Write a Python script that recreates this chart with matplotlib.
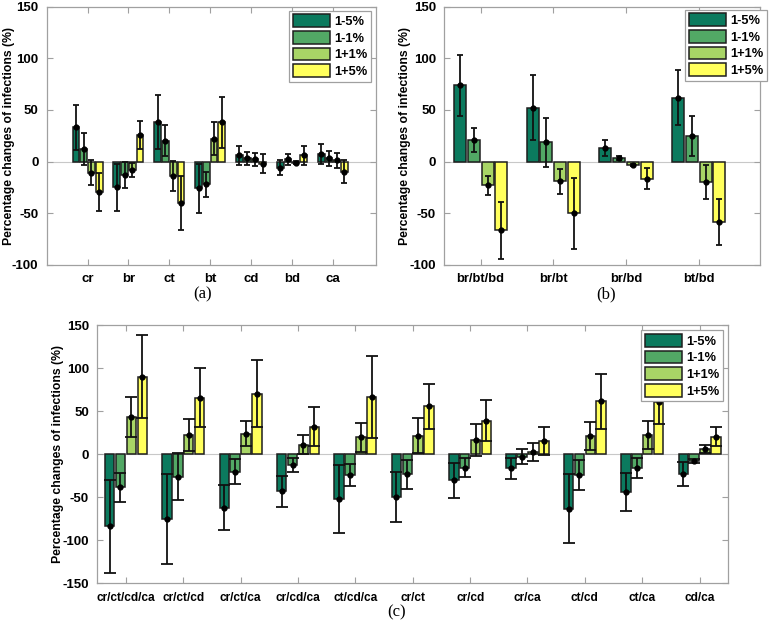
import numpy as np
import matplotlib
matplotlib.use("Agg")
import matplotlib.pyplot as plt

# --- data ---
series = ["1-5%", "1-1%", "1+1%", "1+5%"]
colors = ["#0b7a5e", "#52a865", "#a8d566", "#ffff5c"]

a_groups = ["cr", "br", "ct", "bt", "cd", "bd", "ca"]
a_mean = [
    [33, -25, 38, -26, 6, -6, 7],
    [12.5, -13, 20, -22, 3, 2, 3],
    [-11, -8, -14, 22, 2, -1, 1],
    [-29.5, 25.5, -40, 38, -2, 6, -10],
]
a_err = [
    [22, 23, 26, 23.5, 9, 7.5, 9.5],
    [15.5, 13, 15, 12, 6, 5.5, 7],
    [12, 7, 14.5, 16, 6.5, 1.5, 7.5],
    [18, 13.5, 26, 24.5, 9.5, 9.5, 11],
]

b_groups = ["br/bt/bd", "br/bt", "br/bd", "bt/bd"]
b_mean = [
    [74, 52, 13, 62],
    [21, 18.5, 3.5, 24.5],
    [-23, -19, -3, -19.5],
    [-66.5, -50, -16.5, -58.5],
]
b_err = [
    [29.5, 31.5, 7.5, 27],
    [11.5, 23.5, 2, 19.5],
    [9, 12, 1, 16.5],
    [27.5, 34.5, 10.5, 22.5],
]

c_groups = ["cr/ct/cd/ca", "cr/ct/cd", "cr/ct/ca", "cr/cd/ca", "ct/cd/ca",
            "cr/ct", "cr/cd", "cr/ca", "ct/cd", "ct/ca", "cd/ca"]
c_mean = [
    [-84, -75, -62, -43, -52.5, -49.5, -30.5, -16.5, -63.5, -44, -23],
    [-38.5, -26, -20.5, -12.5, -24, -23.5, -15.5, -3, -24, -16, -8],
    [43, 22, 24, 11, 19.5, 21.5, 16.5, 2.5, 21, 22, 6],
    [90, 65.5, 70, 32, 66, 55.5, 39, 15.5, 61.5, 60.5, 20],
]
c_err = [
    [54, 52, 26, 18, 39.5, 29, 20.5, 12.5, 40, 22.5, 13.5],
    [17, 27, 14.5, 8.5, 13, 16.5, 11.5, 8.5, 17.5, 11.5, 2.5],
    [23.5, 18.5, 14, 11, 16.5, 20.5, 19, 10.5, 16.5, 16.5, 5],
    [48, 34, 39, 23, 47.5, 26, 23.5, 16.5, 32, 25, 11],
]

plt.rcParams["font.family"] = ["Liberation Sans", "DejaVu Sans"]
plt.rcParams["font.weight"] = "bold"
plt.rcParams["axes.unicode_minus"] = False

fig = plt.figure(figsize=(7.75, 6.23), dpi=100)

ax_a = fig.add_axes([0.0603, 0.5751, 0.4245, 0.4141])
ax_b = fig.add_axes([0.5733, 0.5751, 0.4070, 0.4141])
ax_c = fig.add_axes([0.1255, 0.0637, 0.8142, 0.4146])

SLOT = 0.19
WIDTH = 0.165
GRAY = "#a0a0a0"


def grouped(ax, groups, means, errs, ylim, xlim, capsize, xfs, ylab_x):
    x = np.arange(1, len(groups) + 1)
    ax.axhline(0, color="#c8c8c8", lw=0.8, zorder=0)
    handles = []
    for i, (m, e) in enumerate(zip(means, errs)):
        xs = x + (i - 1.5) * SLOT
        h = ax.bar(xs, m, width=WIDTH, color=colors[i], edgecolor="#1e1e1e",
                   linewidth=1.1, zorder=2, label=series[i])
        handles.append(h)
        ax.errorbar(xs, m, yerr=e, fmt="o", color="black", ecolor="#111111",
                    markersize=3.5, elinewidth=1.3, capsize=capsize,
                    capthick=1.3, zorder=3)
    ax.tick_params(axis="both", direction="in", length=4, color=GRAY,
                   top=True, right=True, labelsize=9.5, pad=6)
    ax.set_xticks(x)
    ax.set_xticklabels(groups, fontsize=xfs, fontweight="bold")
    ax.set_xlim(*xlim)
    ax.set_ylim(*ylim)
    ax.set_yticks(np.arange(ylim[0], ylim[1] + 1, 50))
    for lab in ax.get_yticklabels():
        lab.set_fontweight("bold")
    for s in ax.spines.values():
        s.set_color(GRAY)
        s.set_linewidth(0.9)
    ax.set_ylabel("Percentage changes of infections (%)", fontsize=8.8,
                  fontweight="bold")
    ax.yaxis.set_label_coords(ylab_x, 0.5)
    return handles


def add_legend(ax, handles, bbox):
    leg = ax.legend(handles=handles, loc="upper right", bbox_to_anchor=bbox,
                    bbox_transform=fig.transFigure,
                    prop={"weight": "bold", "size": 9.3},
                    handlelength=2.9, handleheight=1.15, handletextpad=0.3,
                    labelspacing=0.22, borderpad=0.3, borderaxespad=0,
                    fancybox=False, framealpha=1)
    leg.get_frame().set_edgecolor(GRAY)
    leg.get_frame().set_linewidth(0.9)


ha = grouped(ax_a, a_groups, a_mean, a_err, (-100, 150), (0.0, 8.05), 2.0,
             9.5, -0.097)
add_legend(ax_a, ha, (371 / 775, 1 - 10.5 / 623))

hb = grouped(ax_b, b_groups, b_mean, b_err, (-100, 150), (0.5, 4.84), 2.0,
             9.3, -0.105)
add_legend(ax_b, hb, (767 / 775, 1 - 9.5 / 623))

hc = grouped(ax_c, c_groups, c_mean, c_err, (-150, 150), (0.5, 11.5), 4.3,
             8.6, -0.053)
add_legend(ax_c, hc, (723 / 775, 1 - 330 / 623))

serif = ["Liberation Serif", "DejaVu Serif"]
fig.text(0.262, 0.5276, "(a)", ha="center", va="center", fontsize=12,
         family=serif, fontweight="normal")
fig.text(0.7815, 0.5276, "(b)", ha="center", va="center", fontsize=12,
         family=serif, fontweight="normal")
fig.text(0.512, 0.0165, "(c)", ha="center", va="center", fontsize=12,
         family=serif, fontweight="normal")

fig.savefig("out.png", dpi=100)
